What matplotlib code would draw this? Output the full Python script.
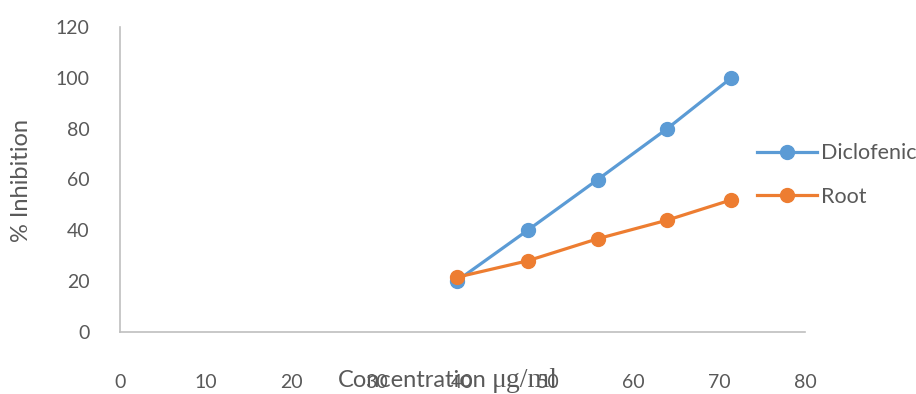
import matplotlib
matplotlib.use("Agg")
import matplotlib.pyplot as plt

conc = [39.3, 47.6, 55.8, 63.9, 71.4]
diclofenic = [20, 40, 60, 80, 100]
root = [21.5, 28, 36.7, 44, 52]
x_ticks = [0, 10, 20, 30, 40, 50, 60, 70, 80]
y_ticks = [0, 20, 40, 60, 80, 100, 120]

sans = ['Lato', 'DejaVu Sans']
plt.rcParams['font.family'] = sans
txt = '#595959'

fig = plt.figure(figsize=(9.16, 3.94), dpi=100)
ax = fig.add_axes([120/916, 62/394, 685/916, 305/394])

ax.plot(conc, diclofenic, color='#5B9BD5', lw=2.3, marker='o', ms=10, label='Diclofenic', zorder=3)
ax.plot(conc, root, color='#ED7D31', lw=2.3, marker='o', ms=10, label='Root', zorder=4)

ax.set_xlim(0, 80)
ax.set_ylim(0, 120)
ax.set_xticks(x_ticks)
ax.set_yticks(y_ticks)
ax.tick_params(axis='both', length=0, labelsize=14, labelcolor=txt)
ax.tick_params(axis='x', pad=30)
ax.tick_params(axis='y', pad=22)
for s in ['top', 'right']:
    ax.spines[s].set_visible(False)
for s in ['left', 'bottom']:
    ax.spines[s].set_color('#bfbfbf')
    ax.spines[s].set_linewidth(1.2)

fig.text(22/916, 1 - 180/394, '% Inhibition', rotation=90, ha='center', va='center',
         fontsize=17, color=txt)
fig.text(487/916, 1 - 387/394, 'Concentration', ha='right', va='baseline', fontsize=17, color=txt)
fig.text(492/916, 1 - 387/394, 'μg/ml', ha='left', va='baseline', fontsize=20,
         color=txt, family=['Liberation Serif', 'DejaVu Serif'])

leg = ax.legend(loc='center left', bbox_to_anchor=(757/916, 1 - 175/394),
                bbox_transform=fig.transFigure, frameon=False, fontsize=15.5,
                labelspacing=1.1, handlelength=2.8, handletextpad=0.15,
                borderaxespad=0, borderpad=0)
for t in leg.get_texts():
    t.set_color(txt)

fig.savefig('out.png', dpi=100)
